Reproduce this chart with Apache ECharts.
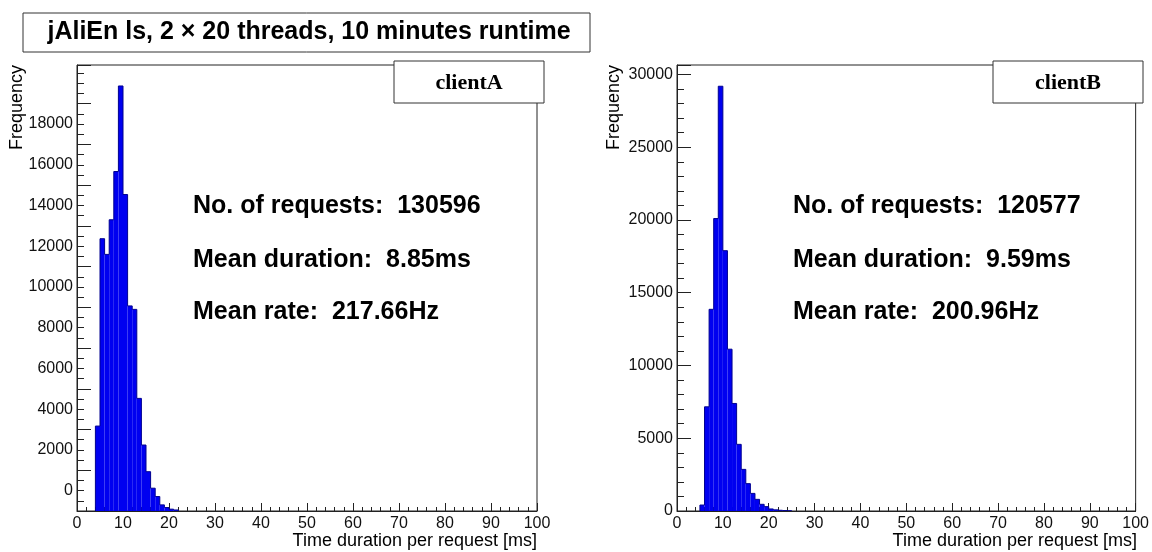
<!DOCTYPE html>
<html>
<head>
<meta charset="utf-8">
<script src="https://cdn.jsdelivr.net/npm/echarts@6/dist/echarts.min.js"></script>
<style>
html,body{margin:0;padding:0;background:#fff;}
#chart{width:1152px;height:552px;}
</style>
</head>
<body>
<div id="chart"></div>
<script>
// ---- data (1 ms bins, bin start in ms) ----
const durationsA = [4,5,6,7,8,9,10,11,12,13,14,15,16,17,18,19,20,21];
const countsA    = [4170,13370,12600,14300,16670,20870,15540,10070,9900,5530,3240,1930,1120,710,300,170,90,50];
const durationsB = [5,6,7,8,9,10,11,12,13,14,15,16,17,18,19,20,21,22,23,24];
const countsB    = [410,7160,13860,20100,29190,17890,11120,7390,4580,2860,1880,1210,800,460,300,140,80,50,30,20];
// the left frequency axis is labelled with an offset of 1000 in the original
const labelOffsetA = 1000;
const yMaxA = 21900, yMaxB = 30650;
const titleText = 'jAliEn ls, 2 \u00d7 20 threads, 10 minutes runtime';
const clientNames = ['clientA', 'clientB'];
const statsA = ['No. of requests:  130596', 'Mean duration:  8.85ms', 'Mean rate:  217.66Hz'];
const statsB = ['No. of requests:  120577', 'Mean duration:  9.59ms', 'Mean rate:  200.96Hz'];
const xTitle = 'Time duration per request [ms]';
const yTitle = 'Frequency';

const SANS = '"Liberation Sans", Arial, Helvetica, sans-serif';
const SERIF = '"Liberation Serif", "Times New Roman", serif';
const AX = '#222';
const FILL = '#0000f0', EDGE = '#000090';

function renderItem(params, api) {
  const i = params.dataIndexInside;
  const n = params.dataInsideLength;
  const x0 = api.value(0), x1 = api.value(1), v = api.value(2);
  const prev = i > 0 ? api.value(2, i - 1) : 0;
  const base = api.coord([x0, 0]);
  const top = api.coord([x1, v]);
  const prevTop = api.coord([x0, prev]);
  const pts = [[base[0], prevTop[1]], [base[0], top[1]], [top[0], top[1]]];
  if (i === n - 1) pts.push([top[0], base[1]]);
  return {
    type: 'group',
    children: [
      { type: 'rect',
        shape: { x: base[0], y: top[1], width: top[0] - base[0], height: base[1] - top[1] },
        style: { fill: FILL, stroke: null } },
      { type: 'polyline', shape: { points: pts },
        style: { fill: null, stroke: EDGE, lineWidth: 1 } }
    ]
  };
}

function xAxisCfg(gi) {
  return {
    type: 'value', gridIndex: gi, min: 0, max: 100, interval: 10, position: 'bottom',
    axisLine: { show: true, lineStyle: { color: AX } },
    axisTick: { show: true, inside: true, length: 8, lineStyle: { color: AX } },
    minorTick: { show: true, splitNumber: 5, length: 4, lineStyle: { color: AX } },
    splitLine: { show: false },
    axisLabel: { fontFamily: SANS, fontSize: 16, color: '#111', margin: 5 }
  };
}

const grids = [
  { left: 77, top: 65, width: 460, height: 446, show: true, borderColor: AX, borderWidth: 1, backgroundColor: 'transparent' },
  { left: 677, top: 65, width: 460, height: 446, show: true, borderColor: AX, borderWidth: 1, backgroundColor: 'transparent' }
];

const yAxes = [
  { // left main axis (labels)
    type: 'value', gridIndex: 0, min: 0, max: yMaxA, interval: 1000, position: 'left',
    axisLine: { show: true, lineStyle: { color: AX } },
    axisTick: { show: true, inside: true, length: 7, lineStyle: { color: AX } },
    minorTick: { show: true, splitNumber: 2, length: 7, lineStyle: { color: AX } },
    splitLine: { show: false },
    axisLabel: {
      fontFamily: SANS, fontSize: 16, color: '#111', margin: 4, showMaxLabel: false,
      formatter: function (v) {
        const d = Math.round(v) - labelOffsetA;
        return (d >= 0 && d <= 18000 && d % 2000 === 0) ? String(d) : '';
      }
    }
  },
  { // left long ticks
    type: 'value', gridIndex: 0, min: 0, max: yMaxA, interval: 2000, position: 'left', offset: 0,
    axisLine: { show: false, onZero: false },
    axisTick: { show: true, inside: true, length: 14, lineStyle: { color: AX } },
    splitLine: { show: false },
    axisLabel: { show: false }
  },
  { // right axis
    type: 'value', gridIndex: 1, min: 0, max: yMaxB, interval: 5000, position: 'left',
    axisLine: { show: true, lineStyle: { color: AX } },
    axisTick: { show: true, inside: true, length: 14, lineStyle: { color: AX } },
    minorTick: { show: true, splitNumber: 5, length: 7, lineStyle: { color: AX } },
    splitLine: { show: false },
    axisLabel: {
      fontFamily: SANS, fontSize: 16, color: '#111', margin: 4, showMaxLabel: false,
      formatter: function (v) { return (v % 5000 === 0) ? String(v) : ''; }
    }
  }
];

function textEl(x, y, text, opt) {
  return {
    type: 'text', x: x, y: y, z: 100,
    style: Object.assign({ text: text, fill: '#000', fontFamily: SANS, fontSize: 16, align: 'left', verticalAlign: 'middle' }, opt || {})
  };
}

const graphics = [];
// title box
graphics.push({ type: 'rect', z: 90, shape: { x: 23, y: 13, width: 567, height: 39 },
  style: { fill: '#fff', stroke: '#333', lineWidth: 1 } });
graphics.push(textEl(309, 32.5, titleText, { fontWeight: 'bold', fontSize: 25, align: 'center' }));
// client boxes
[[394, clientNames[0]], [993, clientNames[1]]].forEach(function (b) {
  graphics.push({ type: 'rect', z: 90, shape: { x: b[0], y: 61, width: 150, height: 42 },
    style: { fill: '#fff', stroke: '#333', lineWidth: 1 } });
  graphics.push(textEl(b[0] + 75, 83, b[1], { fontFamily: SERIF, fontWeight: 'bold', fontSize: 22, align: 'center' }));
});
// stats
const statY = [206, 260, 312];
statsA.forEach(function (s, i) { graphics.push(textEl(193, statY[i], s, { fontWeight: 'bold', fontSize: 25 })); });
statsB.forEach(function (s, i) { graphics.push(textEl(793, statY[i], s, { fontWeight: 'bold', fontSize: 25 })); });
// axis titles
graphics.push(textEl(537, 541, xTitle, { fontSize: 18, align: 'right' }));
graphics.push(textEl(1137, 541, xTitle, { fontSize: 18, align: 'right' }));
graphics.push(Object.assign(textEl(17.5, 65, yTitle, { fontSize: 18, align: 'right' }), { rotation: Math.PI / 2 }));
graphics.push(Object.assign(textEl(614, 65, yTitle, { fontSize: 18, align: 'right' }), { rotation: Math.PI / 2 }));

const chart = echarts.init(document.getElementById('chart'), null, { renderer: 'canvas' });
chart.setOption({
  animation: false,
  backgroundColor: '#fff',
  grid: grids,
  xAxis: [xAxisCfg(0), xAxisCfg(1)],
  yAxis: yAxes,
  series: [
    { type: 'custom', xAxisIndex: 0, yAxisIndex: 0, clip: true, renderItem: renderItem,
      encode: { x: [0, 1], y: 2 },
      data: durationsA.map(function (d, i) { return [d, d + 1, countsA[i]]; }) },
    { type: 'custom', xAxisIndex: 1, yAxisIndex: 2, clip: true, renderItem: renderItem,
      encode: { x: [0, 1], y: 2 },
      data: durationsB.map(function (d, i) { return [d, d + 1, countsB[i]]; }) }
  ],
  graphic: graphics
});
</script>
</body>
</html>
